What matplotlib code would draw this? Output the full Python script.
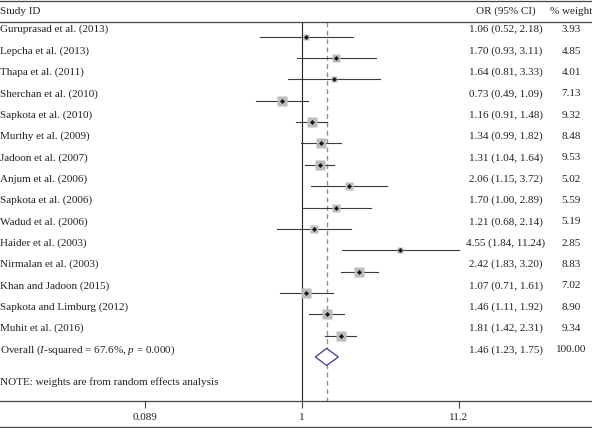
import numpy as np
import matplotlib
matplotlib.use("Agg")
import matplotlib.pyplot as plt

studies = ["Guruprasad et al. (2013)", "Lepcha et al. (2013)", "Thapa et al. (2011)",
           "Sherchan et al. (2010)", "Sapkota et al. (2010)", "Murthy et al. (2009)",
           "Jadoon et al. (2007)", "Anjum et al. (2006)", "Sapkota et al. (2006)",
           "Wadud et al. (2006)", "Haider et al. (2003)", "Nirmalan et al. (2003)",
           "Khan and Jadoon (2015)", "Sapkota and Limburg (2012)", "Muhit et al. (2016)"]
or_vals = [1.06, 1.70, 1.64, 0.73, 1.16, 1.34, 1.31, 2.06, 1.70, 1.21, 4.55, 2.42, 1.07, 1.46, 1.81]
lo_vals = [0.52, 0.93, 0.81, 0.49, 0.91, 0.99, 1.04, 1.15, 1.00, 0.68, 1.84, 1.83, 0.71, 1.11, 1.42]
hi_vals = [2.18, 3.11, 3.33, 1.09, 1.48, 1.82, 1.64, 3.72, 2.89, 2.14, 11.24, 3.20, 1.61, 1.92, 2.31]
weights = [3.93, 4.85, 4.01, 7.13, 9.32, 8.48, 9.53, 5.02, 5.59, 5.19, 2.85, 8.83, 7.02, 8.90, 9.34]
overall = (1.46, 1.23, 1.75)
overall_label = "Overall ($I$-squared = 67.6%, $p$ = 0.000)"
xticks = [0.089, 1, 11.2]
xtick_labels = ["0.089", "1", "11.2"]

plt.rcParams['font.family'] = ['Liberation Serif', 'DejaVu Serif']
plt.rcParams['mathtext.fontset'] = 'custom'
plt.rcParams['mathtext.it'] = 'Liberation Serif:italic'
plt.rcParams['mathtext.rm'] = 'Liberation Serif'

W, H = 592, 428
fig = plt.figure(figsize=(W / 100, H / 100), dpi=100)
ax = fig.add_axes([0, 0, 1, 1])
ax.set_xscale('log')
px_per_dec = 149.5
x_one = 302.0
ax.set_xlim(10 ** (-x_one / px_per_dec), 10 ** ((W - x_one) / px_per_dec))
row_h = 21.35
y0 = 36.7
ax.set_ylim((H - y0) / row_h, -y0 / row_h)

fs = 8.0
tc = '#222222'
txt_off = -0.33
n = len(studies)
rows = np.arange(n)
axis_row = (401.5 - y0) / row_h
hdr_line = (21.5 - y0) / row_h
top_line = (1.0 - y0) / row_h
bot_line = (426.5 - y0) / row_h
hdr_row = (11.5 - y0) / row_h
note_row = (381.7 - y0) / row_h

col_or = 10 ** ((506 - x_one) / px_per_dec)
col_w = 10 ** ((571 - x_one) / px_per_dec)
col_left = 10 ** ((0.5 - x_one) / px_per_dec)

lc = '#444444'
for yv in (top_line, hdr_line, bot_line):
    ax.axhline(yv, color=lc, lw=0.9)

ax.plot([1, 1], [hdr_line, axis_row], color='#222222', lw=0.8, zorder=1)
ax.plot([overall[0]] * 2, [hdr_line, axis_row], color='#c9768a', lw=1.0,
        ls=(0, (3.5, 2.5)), zorder=1)

ax.text(col_left, hdr_row, "Study ID", fontsize=fs, va='center', ha='left', color=tc)
ax.text(col_or, hdr_row, "OR (95% CI)", fontsize=fs, va='center', ha='center', color=tc)
ax.text(col_w, hdr_row, "% weight", fontsize=fs, va='center', ha='center', color=tc)

for i in range(n):
    y = rows[i]
    ax.plot([lo_vals[i], hi_vals[i]], [y, y], color='#3a3a3a', lw=0.8, zorder=2)
    s = 3.3 * np.sqrt(weights[i]) * 0.76
    ax.plot(or_vals[i], y, marker='s', ms=s, mfc='#bdbdbd', mec='none', zorder=3)
    ax.plot(or_vals[i], y, marker='D', ms=2.2, mfc='#111111', mec='#111111', mew=0.3, zorder=4)
    ax.text(col_left, y + txt_off, studies[i], fontsize=fs, va='center', ha='left', color=tc)
    ax.text(col_or, y + txt_off, f"{or_vals[i]:.2f} ({lo_vals[i]:.2f}, {hi_vals[i]:.2f})",
            fontsize=fs, va='center', ha='center', color=tc)
    ax.text(col_w, y + txt_off, f"{weights[i]:.2f}", fontsize=fs, va='center', ha='center', color=tc)

yo = n
est, lo, hi = overall
dh = 0.40
ax.fill([lo, est, hi, est, lo], [yo, yo - dh, yo, yo + dh, yo], facecolor='white',
        edgecolor='#3b3b8f', lw=0.9, zorder=3)
ax.text(col_left, yo + txt_off, overall_label, fontsize=fs, va='center', ha='left', color=tc)
ax.text(col_or, yo + txt_off, f"{est:.2f} ({lo:.2f}, {hi:.2f})", fontsize=fs, va='center',
        ha='center', color=tc)
ax.text(col_w, yo + txt_off, "100.00", fontsize=fs, va='center', ha='center', color=tc)

ax.text(col_left, note_row, "NOTE: weights are from random effects analysis", fontsize=fs,
        va='center', ha='left', color=tc)

for sp in ('left', 'right', 'top'):
    ax.spines[sp].set_visible(False)
ax.spines['bottom'].set_position(('data', axis_row))
ax.spines['bottom'].set_color(lc)
ax.spines['bottom'].set_linewidth(0.9)
ax.set_yticks([])
ax.set_xticks(xticks)
ax.set_xticklabels(xtick_labels)
ax.xaxis.set_minor_locator(matplotlib.ticker.NullLocator())
ax.tick_params(axis='x', direction='out', length=5, width=0.8, color=lc, labelsize=fs, pad=3,
               labelcolor=tc)

fig.savefig("out.png", dpi=100)
